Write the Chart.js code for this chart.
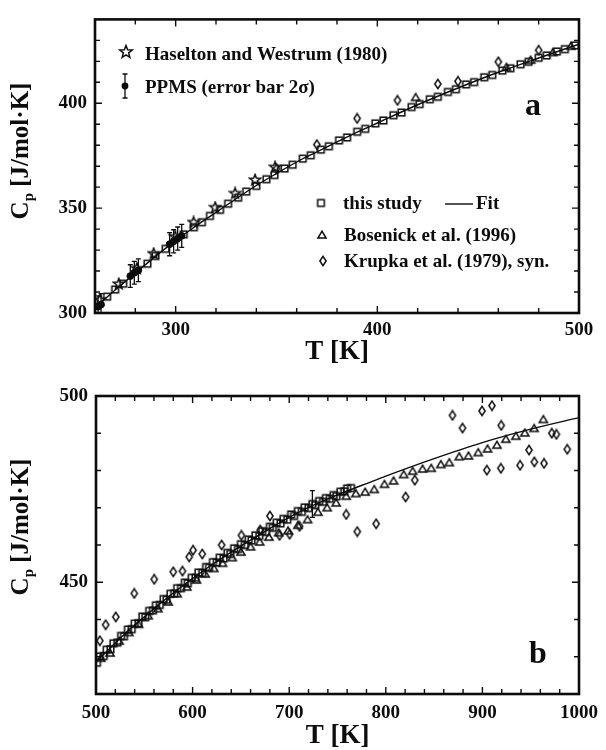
<!DOCTYPE html>
<html lang="en">
<head>
<meta charset="utf-8">
<title>Cp(T) panels a and b</title>
<script src="https://cdn.jsdelivr.net/npm/chart.js@4.4.1/dist/chart.umd.min.js"></script>
<style>
  body { margin: 0; background: #fff; }
  .panel { position: absolute; left: 0; }
  #panelA { top: 0; }
  #panelB { top: 375px; }
</style>
</head>
<body>
<canvas id="panelA" class="panel" width="606" height="375"></canvas>
<canvas id="panelB" class="panel" width="606" height="375"></canvas>
<script>
// ---------- panel a : 260 - 500 K ----------
const fitT_a = [260, 270, 280, 290, 300, 310, 320, 330, 340, 350, 360, 370, 380, 390, 400, 420, 440, 460, 480, 500];
const fitCp_a = [302.5, 311, 319, 327, 334.5, 341.5, 348, 354.5, 360.8, 366.5, 372, 376.8, 381.6, 386.2, 390.6, 399.3, 407.3, 414.8, 421.6, 428.2];

const studyT_a = [266, 270, 274, 286, 290, 295, 304, 309, 313, 317, 322, 326, 331, 335, 340, 345, 349, 354, 358, 363,
  367, 372, 376, 381, 385, 390, 394, 399, 403, 408, 412, 417, 421, 426, 430, 435, 439, 444, 448, 453,
  457, 462, 466, 471, 475, 480, 484, 489, 493, 498];
const studyCp_a = [307.8, 311.2, 314.0, 323.5, 327.2, 330.6, 337.5, 340.9, 343.3, 346.3, 349.2, 352.1, 355.0, 357.9, 360.6, 363.8, 365.8, 368.9, 370.7, 373.6,
  375.2, 377.9, 379.5, 382.3, 383.7, 386.4, 387.8, 390.4, 391.8, 394.3, 395.6, 398.2, 399.6, 401.9, 403.1, 405.4, 406.7, 409.0, 410.1, 412.4,
  413.5, 415.6, 416.7, 418.6, 419.8, 421.7, 422.8, 424.7, 425.8, 427.6];

const bosenickT_a = [419, 464, 476, 487, 496];
const bosenickCp_a = [402.8, 417.2, 420.6, 424.2, 427.2];

const krupkaT_a = [350, 370, 390, 410, 430, 440, 460, 480];
const krupkaCp_a = [368.8, 380.3, 392.8, 401.4, 409.2, 410.5, 419.8, 425.3];

const haseltonT = [262.5, 271.8, 280.8, 289.1, 299.8, 308.9, 319.6, 329.5, 339.4, 349.3];
const haseltonCp = [306.3, 313.8, 321.2, 328.3, 336.4, 343.2, 350.3, 357.0, 363.4, 369.5];

const ppmsT = [261.5, 263, 277.5, 279.5, 281.5, 297, 299, 301, 303];
const ppmsCp = [303.0, 304.0, 317.6, 319.2, 320.4, 332.8, 334.2, 335.5, 336.8];
const ppmsErr = [5.2, 5.2, 5.4, 5.4, 5.4, 5.5, 5.5, 5.5, 5.5];

// ---------- panel b : 500 - 1000 K ----------
const fitT_b = [500, 520, 540, 560, 580, 600, 620, 640, 660, 680, 700, 720, 740, 760, 780, 800, 850, 900, 950, 1000];
const fitCp_b = [428.6, 433.7, 438.5, 442.9, 447.1, 451, 454.7, 458.1, 461.3, 464.4, 467.4, 470.1, 472.4, 474.5, 476.5, 478.5, 483.2, 487.5, 491.1, 494.2];

const studyT_b = [501, 504, 508, 511, 515, 518, 522, 526, 529, 533, 537, 540, 544, 548, 551, 555, 559, 562, 566, 570,
  573, 577, 581, 584, 588, 592, 595, 599, 603, 606, 610, 614, 617, 621, 625, 628, 632, 636, 639, 643,
  647, 650, 654, 658, 661, 665, 669, 672, 676, 680, 683, 687, 691, 694, 698, 702, 705, 709, 713, 716,
  720, 727, 731, 735, 738, 742, 746, 749, 753, 757, 760, 764];
const studyCp_b = [428.4, 430.1, 430.2, 431.9, 432.0, 433.6, 433.8, 435.6, 435.5, 437.3, 437.4, 438.9, 439.0, 440.8, 440.6, 442.3, 442.4, 443.8, 443.9, 445.5,
  445.3, 446.9, 447.0, 448.4, 448.4, 449.9, 449.7, 451.2, 451.2, 452.6, 452.5, 454.1, 453.9, 455.4, 455.3, 456.6, 456.4, 457.9, 457.6, 459.1,
  458.9, 460.2, 460.0, 461.5, 461.2, 462.6, 462.4, 463.7, 463.5, 464.9, 464.6, 466.0, 465.8, 467.0, 466.8, 468.2, 467.8, 469.1, 468.9, 470.1,
  469.9, 470.7, 471.8, 471.6, 472.6, 472.4, 473.4, 473.1, 474.3, 474.4, 475.2, 475.3];

// one representative uncertainty bar on the high-temperature data
const studyBarT = [724];
const studyBarCp = [471.0];
const studyBarErr = [3.6];

const bosenickT_b = [505, 514.5, 524, 534, 544, 554, 564, 574.7, 584, 594, 604, 613, 622, 631, 641, 650, 660, 669.4, 679, 689,
  698.7, 709, 719, 729.7, 739.3, 748.6, 759, 769, 778.6, 788, 798.6, 808, 818.5, 827.8, 838, 847, 857, 865.7, 876, 885.6,
  895.7, 905.3, 915, 924.3, 934.6, 943.9, 953.5, 963.1];
const bosenickCp_b = [429.6, 431.0, 434.2, 436.5, 438.7, 441.0, 442.9, 444.7, 446.9, 448.7, 450.6, 452.2, 453.7, 455.1, 456.6, 458.1, 459.5, 460.8, 462.1, 463.3,
  463.8, 465.3, 466.8, 468.8, 470.0, 471.3, 473.1, 473.8, 474.2, 474.9, 476.3, 477.2, 478.9, 479.8, 480.4, 480.6, 481.6, 482.1, 483.7, 483.9,
  484.8, 485.8, 486.8, 488.4, 489.2, 490.1, 491.3, 493.7];

const krupkaT_b = [504, 510, 520.5, 539.6, 560.3, 580, 589.5, 596.5, 600.5, 610, 630, 650.5, 670, 680, 690, 700.4, 710.7, 759, 770.5, 790,
  820.5, 830, 869, 879.4, 899.6, 909.9, 919.5, 904.6, 919.1, 939, 948.3, 953.8, 963.8, 971.8, 976.6, 987.9];
const krupkaCp_b = [434.3, 438.6, 440.7, 447.0, 450.8, 452.8, 453.0, 456.8, 458.6, 457.6, 460.0, 462.6, 464.0, 467.8, 462.6, 462.9, 465.0, 468.2, 463.6, 465.7,
  472.9, 477.4, 494.8, 491.4, 496.0, 497.4, 492.1, 480.1, 480.6, 481.4, 485.5, 482.3, 481.9, 490.0, 489.7, 485.7];

// ---------- drawing helpers ----------
const INK = "#0c0c0c";
const SERIF = "'Liberation Serif', 'Times New Roman', Times, serif";

const toPoints = (xs, ys) => xs.map((x, i) => ({ x: x, y: ys[i] }));

// small canvases used as point styles
function makeMark(size, draw) {
  const c = document.createElement("canvas");
  c.width = size;
  c.height = size;
  const g = c.getContext("2d");
  g.strokeStyle = INK;
  g.fillStyle = INK;
  g.lineWidth = 1.5;
  draw(g, size / 2);
  return c;
}
function starPath(g, cx, cy, R, r) {
  g.beginPath();
  for (let i = 0; i < 10; i++) {
    const ang = -Math.PI / 2 + (i * Math.PI) / 5;
    const rad = i % 2 ? r : R;
    g.lineTo(cx + rad * Math.cos(ang), cy + rad * Math.sin(ang));
  }
  g.closePath();
}
const squareMark = makeMark(11, (g, c) => g.strokeRect(c - 3.3, c - 3.3, 6.6, 6.6));
const triangleMark = makeMark(12, (g, c) => {
  g.beginPath();
  g.moveTo(c, c - 3.9);
  g.lineTo(c + 4.1, c + 3);
  g.lineTo(c - 4.1, c + 3);
  g.closePath();
  g.stroke();
});
const diamondMark = makeMark(12, (g, c) => {
  g.beginPath();
  g.moveTo(c, c - 4.6);
  g.lineTo(c + 3.1, c);
  g.lineTo(c, c + 4.6);
  g.lineTo(c - 3.1, c);
  g.closePath();
  g.stroke();
});
const starMark = makeMark(14, (g, c) => { starPath(g, c, c, 5.6, 2.4); g.stroke(); });
const starMarkBig = makeMark(16, (g, c) => { starPath(g, c, c, 6.5, 2.8); g.stroke(); });

function putMark(ctx, mark, x, y) {
  ctx.drawImage(mark, x - mark.width / 2, y - mark.height / 2);
}

function drawYTitle(ctx, x, y) {
  const big = `bold 25px ${SERIF}`;
  const small = `bold 15px ${SERIF}`;
  ctx.save();
  ctx.translate(x, y);
  ctx.rotate(-Math.PI / 2);
  ctx.fillStyle = INK;
  ctx.textAlign = "left";
  ctx.textBaseline = "alphabetic";
  ctx.font = big;
  const wC = ctx.measureText("C").width;
  const wRest = ctx.measureText(" [J/mol·K]").width;
  ctx.font = small;
  const wp = ctx.measureText("p").width;
  const x0 = -(wC + wp + wRest) / 2;
  ctx.font = big;
  ctx.fillText("C", x0, 0);
  ctx.font = small;
  ctx.fillText("p", x0 + wC, 5);
  ctx.font = big;
  ctx.fillText(" [J/mol·K]", x0 + wC + wp, 0);
  ctx.restore();
}

// closed frame with inward tick marks on all four sides
const frameTicks = {
  id: "frameTicks",
  afterDraw(chart) {
    const { ctx, chartArea: a, scales } = chart;
    ctx.save();
    ctx.strokeStyle = INK;
    ctx.lineWidth = 1.4;
    ctx.beginPath();
    scales.x.ticks.forEach((t) => {
      const px = scales.x.getPixelForValue(t.value);
      const len = t.label !== "" ? 7 : 5;
      ctx.moveTo(px, a.bottom);
      ctx.lineTo(px, a.bottom - len);
      ctx.moveTo(px, a.top);
      ctx.lineTo(px, a.top + len);
    });
    scales.y.ticks.forEach((t) => {
      const py = scales.y.getPixelForValue(t.value);
      const len = t.label !== "" ? 7 : 5;
      ctx.moveTo(a.left, py);
      ctx.lineTo(a.left + len, py);
      ctx.moveTo(a.right, py);
      ctx.lineTo(a.right - len, py);
    });
    ctx.stroke();
    ctx.lineWidth = 2.6;
    ctx.strokeRect(a.left, a.top, a.right - a.left, a.bottom - a.top);
    ctx.restore();
  },
};

// vertical error bars for datasets that carry an "errors" array
const errorBars = {
  id: "errorBars",
  afterDatasetsDraw(chart) {
    const { ctx, chartArea: a, scales } = chart;
    ctx.save();
    ctx.beginPath();
    ctx.rect(a.left, a.top, a.right - a.left, a.bottom - a.top);
    ctx.clip();
    ctx.strokeStyle = INK;
    ctx.lineWidth = 1.3;
    chart.data.datasets.forEach((ds) => {
      if (!ds.errors) return;
      ds.data.forEach((p, j) => {
        const px = scales.x.getPixelForValue(p.x);
        const top = scales.y.getPixelForValue(p.y + ds.errors[j]);
        const bot = scales.y.getPixelForValue(p.y - ds.errors[j]);
        ctx.beginPath();
        ctx.moveTo(px, top);
        ctx.lineTo(px, bot);
        ctx.moveTo(px - 2.5, top);
        ctx.lineTo(px + 2.5, top);
        ctx.moveTo(px - 2.5, bot);
        ctx.lineTo(px + 2.5, bot);
        ctx.stroke();
      });
    });
    ctx.restore();
  },
};

const panelANotes = {
  id: "panelANotes",
  afterDraw(chart) {
    const ctx = chart.ctx;
    ctx.save();
    ctx.fillStyle = INK;
    ctx.strokeStyle = INK;
    ctx.textAlign = "left";
    ctx.textBaseline = "alphabetic";
    ctx.font = `bold 19px ${SERIF}`;

    putMark(ctx, starMarkBig, 126, 52);
    ctx.fillText("Haselton and Westrum (1980)", 145, 60);

    // filled dot with its 2-sigma bar
    ctx.lineWidth = 1.3;
    ctx.beginPath();
    ctx.moveTo(125, 74);
    ctx.lineTo(125, 98);
    ctx.moveTo(122.5, 74);
    ctx.lineTo(127.5, 74);
    ctx.moveTo(122.5, 98);
    ctx.lineTo(127.5, 98);
    ctx.stroke();
    ctx.beginPath();
    ctx.arc(125, 86, 3.4, 0, Math.PI * 2);
    ctx.fill();
    ctx.fillText("PPMS (error bar 2\u03c3)", 145, 93);

    putMark(ctx, squareMark, 321, 203);
    ctx.fillText("this study", 343, 209);
    ctx.lineWidth = 1.4;
    ctx.beginPath();
    ctx.moveTo(445, 204);
    ctx.lineTo(473, 204);
    ctx.stroke();
    ctx.fillText("Fit", 476, 209);
    putMark(ctx, triangleMark, 322, 235);
    ctx.fillText("Bosenick et al. (1996)", 344, 241);
    putMark(ctx, diamondMark, 323, 261);
    ctx.fillText("Krupka et al. (1979), syn.", 344, 267);

    ctx.font = `bold 32px ${SERIF}`;
    ctx.textAlign = "center";
    ctx.fillText("a", 533, 115);
    ctx.restore();
    drawYTitle(ctx, 28, 151);
  },
};

const panelBNotes = {
  id: "panelBNotes",
  afterDraw(chart) {
    const ctx = chart.ctx;
    ctx.save();
    ctx.fillStyle = INK;
    ctx.font = `bold 32px ${SERIF}`;
    ctx.textAlign = "center";
    ctx.textBaseline = "alphabetic";
    ctx.fillText("b", 538, 288);
    ctx.restore();
    drawYTitle(ctx, 28, 152);
  },
};

function markerSet(label, xs, ys, mark) {
  return {
    label: label,
    data: toPoints(xs, ys),
    pointStyle: mark,
    pointRadius: 5,
    borderColor: INK,
    backgroundColor: "transparent",
  };
}

function fitSet(xs, ys) {
  return {
    label: "Fit",
    data: toPoints(xs, ys),
    showLine: true,
    pointRadius: 0,
    borderColor: INK,
    borderWidth: 1.4,
    cubicInterpolationMode: "monotone",
  };
}

function axes(xMin, xMax, xMajor, yMin, yMax, yMajor, xHeight, yWidth, titlePad, labelPad) {
  const tickFont = { family: SERIF, size: 19, weight: "bold" };
  return {
    x: {
      type: "linear",
      min: xMin,
      max: xMax,
      grid: { display: false, drawTicks: false },
      border: { display: false },
      ticks: {
        stepSize: 20,
        autoSkip: false,
        maxRotation: 0,
        padding: labelPad,
        color: INK,
        font: tickFont,
        callback: (v) => (v % xMajor === 0 ? v : ""),
      },
      title: {
        display: true,
        text: "T [K]",
        color: INK,
        font: { family: SERIF, size: 27, weight: "bold", lineHeight: 1 },
        padding: { top: 0, bottom: titlePad },
      },
      afterFit: (scale) => { scale.height = xHeight; },
    },
    y: {
      type: "linear",
      min: yMin,
      max: yMax,
      grid: { display: false, drawTicks: false },
      border: { display: false },
      ticks: {
        stepSize: 10,
        autoSkip: false,
        padding: 8,
        color: INK,
        font: tickFont,
        callback: (v) => (v % yMajor === 0 ? v : ""),
      },
      afterFit: (scale) => { scale.width = yWidth; },
    },
  };
}

const commonOptions = {
  responsive: false,
  devicePixelRatio: 1,
  animation: false,
  plugins: { legend: { display: false }, tooltip: { enabled: false } },
};

// panel a
new Chart(document.getElementById("panelA").getContext("2d"), {
  type: "scatter",
  data: {
    datasets: [
      Object.assign(markerSet("PPMS", ppmsT, ppmsCp, "circle"), {
        pointRadius: 3.4,
        backgroundColor: INK,
        errors: ppmsErr,
      }),
      markerSet("Haselton and Westrum (1980)", haseltonT, haseltonCp, starMark),
      markerSet("Krupka et al. (1979), syn.", krupkaT_a, krupkaCp_a, diamondMark),
      markerSet("Bosenick et al. (1996)", bosenickT_a, bosenickCp_a, triangleMark),
      markerSet("this study", studyT_a, studyCp_a, squareMark),
      fitSet(fitT_a, fitCp_a),
    ],
  },
  options: Object.assign({}, commonOptions, {
    layout: { padding: { top: 12, right: 27, left: 0, bottom: 0 } },
    scales: axes(260, 500, 100, 300, 440, 50, 62, 95, 9, 6),
  }),
  plugins: [errorBars, frameTicks, panelANotes],
});

// panel b
new Chart(document.getElementById("panelB").getContext("2d"), {
  type: "scatter",
  data: {
    datasets: [
      Object.assign(markerSet("this study", studyBarT, studyBarCp, squareMark), { errors: studyBarErr }),
      markerSet("Krupka et al. (1979), syn.", krupkaT_b, krupkaCp_b, diamondMark),
      markerSet("Bosenick et al. (1996)", bosenickT_b, bosenickCp_b, triangleMark),
      markerSet("this study", studyT_b, studyCp_b, squareMark),
      fitSet(fitT_b, fitCp_b),
    ],
  },
  options: Object.assign({}, commonOptions, {
    layout: { padding: { top: 21, right: 26, left: 0, bottom: 0 } },
    scales: axes(500, 1000, 100, 420, 500, 50, 56, 96, 0, 8),
  }),
  plugins: [errorBars, frameTicks, panelBNotes],
});
</script>
</body>
</html>
